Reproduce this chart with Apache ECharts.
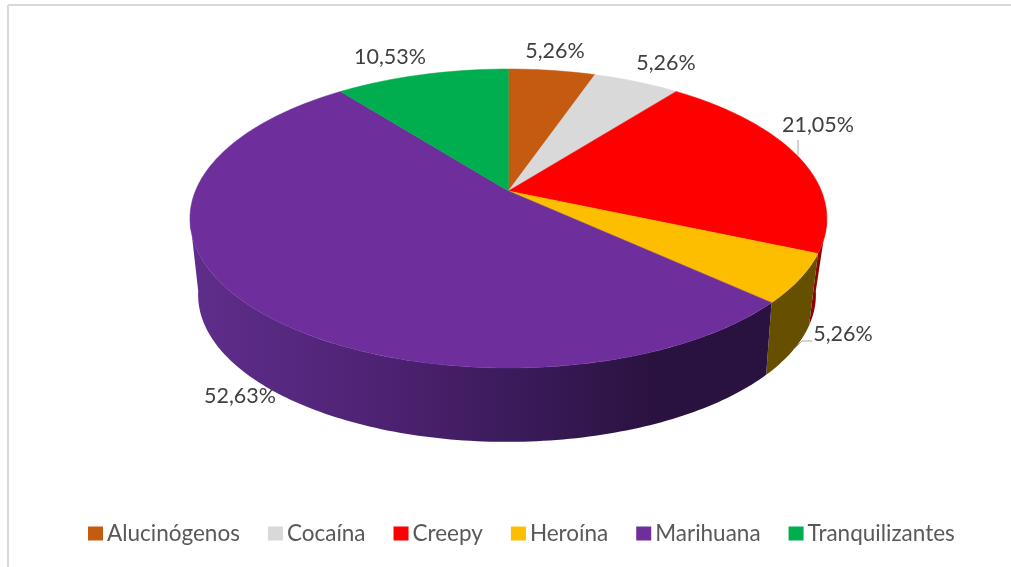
<!DOCTYPE html>
<html>
<head>
<meta charset="utf-8">
<style>
  html, body { margin: 0; padding: 0; background: #fff; }
  #chart { width: 1011px; height: 567px; }
</style>
<script src="https://cdn.jsdelivr.net/npm/echarts@6/dist/echarts.min.js"></script>
</head>
<body>
<div id="chart"></div>
<script>
// Consumption shares per substance, clockwise from twelve o'clock.
const categories = ['Alucinógenos', 'Cocaína', 'Creepy', 'Heroína', 'Marihuana', 'Tranquilizantes'];
const shares = [5.26, 5.26, 21.05, 5.26, 52.63, 10.53];
const topColors = ['#C55A11', '#D9D9D9', '#FF0000', '#FDBE00', '#6E2F9C', '#00AE50'];
const wallColors = ['#76360A', '#828282', '#8F0000', '#665000', '#4A2070', '#006A30'];

// Perspective model of the disc: top rim and the smaller, farther bottom rim.
const topRim = { cx: 508.4, cy: 191, a: 313, b: 144.4, k: 0.184 };
const bottomRim = { cx: 507, cy: 264, a: 302, b: 140.5, k: 0.21 };
// The side wall is visible only between the two silhouette tangents.
const wallVisible = [100.6, 259.4];

// Label anchors around the disc, in slice order.
const labelPositions = [[555, 51], [666, 63], [818, 125], [843, 334], [240, 396], [390, 57]];
// Grey leader segments used by the labels that sit away from their slice.
const leaders = { 2: [[798, 140], [798, 155]], 3: [[793, 350], [802, 341], [812, 341]] };

const total = shares.reduce((s, v) => s + v, 0);

function project(rim, deg) {
  const t = deg * Math.PI / 180;
  const u = Math.sin(t), v = -Math.cos(t);
  const d = 1 - rim.k * v;
  return [rim.cx + rim.a * u / d, rim.cy + rim.b * v / d];
}

function arc(rim, from, to) {
  const steps = Math.max(2, Math.ceil(Math.abs(to - from)));
  const pts = [];
  for (let i = 0; i <= steps; i++) pts.push(project(rim, from + (to - from) * i / steps));
  return pts;
}

function wallFill(index) {
  if (index !== 4) return wallColors[index];
  // The long front wall darkens from the left edge towards the right.
  return new echarts.graphic.LinearGradient(190, 0, 770, 0, [
    { offset: 0, color: '#5F2E8C' },
    { offset: 0.3, color: '#4F2375' },
    { offset: 0.55, color: '#3C1B5C' },
    { offset: 0.8, color: '#2A1240' },
    { offset: 1, color: '#2A1240' }
  ], true);
}

function makeSeries(name, index) {
  const start = shares.slice(0, index).reduce((s, v) => s + v, 0) / total * 360;
  return {
    type: 'custom',
    name: name,
    coordinateSystem: 'none',
    silent: true,
    animation: false,
    itemStyle: { color: topColors[index] },
    data: [[shares[index]]],
    renderItem: function (params, api) {
      const end = start + api.value(0) / total * 360;
      const topArc = arc(topRim, start, end);
      const children = [];
      const wallFrom = Math.max(start, wallVisible[0]);
      const wallTo = Math.min(end, wallVisible[1]);
      if (wallTo > wallFrom) {
        children.push({
          type: 'polygon',
          z2: 1 + index,
          shape: { points: arc(topRim, wallFrom, wallTo).concat(arc(bottomRim, wallTo, wallFrom)) },
          style: { fill: wallFill(index) }
        });
      }
      children.push(
        {
          type: 'polygon',
          z2: 20,
          shape: { points: [[topRim.cx, topRim.cy]].concat(topArc) },
          style: { fill: topColors[index], stroke: topColors[index], lineWidth: 0.5 }
        },
        {
          type: 'text',
          z2: 30,
          style: {
            x: labelPositions[index][0],
            y: labelPositions[index][1],
            text: api.value(0).toFixed(2).replace('.', ',') + '%',
            fill: '#404040',
            font: '21.5px Lato',
            textAlign: 'center',
            textVerticalAlign: 'middle'
          }
        }
      );
      if (leaders[index]) {
        children.push({
          type: 'polyline',
          z2: 25,
          shape: { points: leaders[index] },
          style: { fill: 'none', stroke: '#A6A6A6', lineWidth: 1 }
        });
      }
      return { type: 'group', children: children };
    }
  };
}

const chart = echarts.init(document.getElementById('chart'), null, { renderer: 'canvas' });
chart.setOption({
  backgroundColor: '#fff',
  animation: false,
  graphic: [
    { type: 'line', shape: { x1: 8, y1: 5, x2: 1011, y2: 5 }, style: { stroke: '#D9D9D9', lineWidth: 2 } },
    { type: 'line', shape: { x1: 8, y1: 5, x2: 8, y2: 567 }, style: { stroke: '#D9D9D9', lineWidth: 2 } }
  ],
  legend: {
    left: 83,
    top: 517,
    icon: 'rect',
    itemWidth: 15,
    itemHeight: 14,
    itemGap: 28,
    data: categories,
    selectedMode: false,
    textStyle: { color: '#595959', fontFamily: 'Lato', fontSize: 22.5, padding: [0, 0, 0, -1] }
  },
  series: categories.map(makeSeries)
});
</script>
</body>
</html>
